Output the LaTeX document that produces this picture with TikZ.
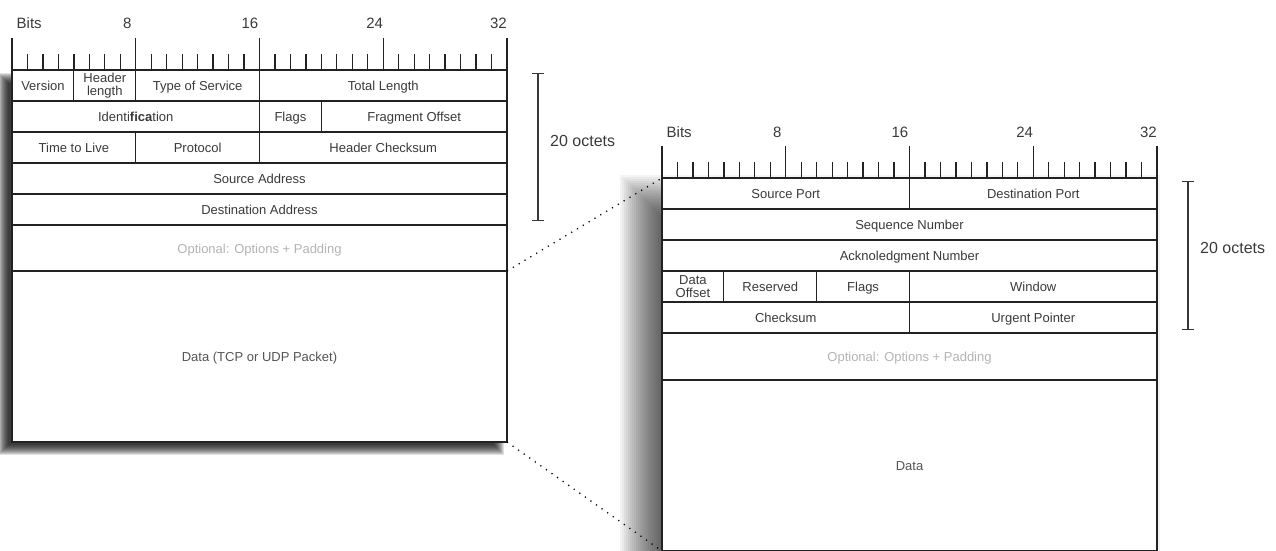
\documentclass[tikz,border=0pt]{standalone}
\usepackage{fontspec}
\setmainfont{Liberation Sans}
\usetikzlibrary{arrows.meta}
\definecolor{linec}{HTML}{222222}
\definecolor{txt}{HTML}{3A3A3A}
\definecolor{opttxt}{HTML}{B4B4B4}
\definecolor{datatxt}{HTML}{555555}
\newcommand\bw{15.46875}
% [opts]{name}{box left x}{bit0}{bit1}{ytop}{ybot}{text}
\newcommand\fieldat[8][]{%
  \node[field,#1,minimum width={(#5-#4)*\bw},minimum height={#7-#6}]
    (#2) at ({#3+(#4+#5)/2*\bw},{(#6+#7)/2}) {#8};}
% {prefix}{box left x}{row top y}{label baseline y}
\newcommand\bitruler[4]{%
  \foreach \i in {0,...,32}{\draw[tickline] ({#2+\i*\bw},#3) -- ({#2+\i*\bw},{#3-16});}
  \foreach \i in {0,8,16,24,32}{\draw[tickline] ({#2+\i*\bw},#3) -- ({#2+\i*\bw},{#3-32});}
  \node[rulerlabel,anchor=base west] (#1bits) at ({#2+4.5},#4) {Bits};
  \node[rulerlabel,anchor=base east] (#1eight) at ({#2+8*\bw-4},#4) {8};
  \node[rulerlabel,anchor=base east] (#1sixteen) at ({#2+16*\bw-1},#4) {16};
  \node[rulerlabel,anchor=base east] (#1twentyfour) at ({#2+24*\bw},#4) {24};
  \node[rulerlabel,anchor=base east] (#1thirtytwo) at ({#2+32*\bw},#4) {32};}
\tikzset{
  field/.style={draw=linec,fill=white,line width=1.1pt,inner sep=0pt,outer sep=0pt,
    text=txt,font=\fontsize{13}{15}\selectfont,align=center,text height=11pt,text depth=1pt},
  twoline/.style={font=\fontsize{13}{13}\selectfont,text height=,text depth=},
  optfield/.style={text=opttxt},
  datafield/.style={text=datatxt},
  tickline/.style={draw=linec,line width=1.3pt},
  rulerlabel/.style={text=txt,font=\fontsize{15}{17}\selectfont,inner sep=0pt},
  octlabel/.style={text=txt,font=\fontsize{16}{18}\selectfont,inner sep=0pt,anchor=west},
  octbar/.style={draw=linec!90,line width=1.4pt,{Bar[width=12pt,line width=1.4pt]}-{Bar[width=12pt,line width=1.4pt]}},
  dotline/.style={draw=black,line width=1.3pt,dash pattern=on 1.2pt off 5.6pt}
}
\begin{document}
\begin{tikzpicture}[x=1pt,y=-1pt]
\useasboundingbox (0,0) rectangle (1276,550);
% soft shadows
\foreach \e in {-5,...,5}{\fill[black,fill opacity=0.12] ({3-\e},{78-\e}) rectangle ({499+\e},{450+\e});}
\foreach \e in {-30,-28,...,30}{\fill[black,fill opacity=0.044] ({650-\e},{205-\e}) rectangle ({1130+\e},{600+\e});}
% IP header
\fieldat{ipver}{12}{0}{4}{70}{101}{Version}
\fieldat[twoline]{iphl}{12}{4}{8}{70}{101}{Header\\length}
\fieldat{iptos}{12}{8}{16}{70}{101}{Type of Service}
\fieldat{iplen}{12}{16}{32}{70}{101}{Total Length}
\fieldat{ipid}{12}{0}{16}{101}{132}{Identi\textbf{fica}tion}
\fieldat{ipflags}{12}{16}{20}{101}{132}{Flags}
\fieldat{ipfrag}{12}{20}{32}{101}{132}{Fragment Offset}
\fieldat{ipttl}{12}{0}{8}{132}{163}{Time to Live}
\fieldat{ipproto}{12}{8}{16}{132}{163}{Protocol}
\fieldat{ipcsum}{12}{16}{32}{132}{163}{Header Checksum}
\fieldat{ipsrc}{12}{0}{32}{163}{194}{Source Address}
\fieldat{ipdst}{12}{0}{32}{194}{225}{Destination Address}
\fieldat[optfield]{ipopt}{12}{0}{32}{225}{271}{Optional: Options + Padding}
\fieldat[datafield]{ipdata}{12}{0}{32}{271}{442}{Data (TCP or UDP Packet)}
\bitruler{ipr}{12}{70}{28}
% TCP header
\fieldat{tsrc}{662}{0}{16}{178}{209}{Source Port}
\fieldat{tdst}{662}{16}{32}{178}{209}{Destination Port}
\fieldat{tseq}{662}{0}{32}{209}{240}{Sequence Number}
\fieldat{tack}{662}{0}{32}{240}{271}{Acknoledgment Number}
\fieldat[twoline]{toff}{662}{0}{4}{271}{302}{Data\\Offset}
\fieldat{tres}{662}{4}{10}{271}{302}{Reserved}
\fieldat{tflags}{662}{10}{16}{271}{302}{Flags}
\fieldat{twin}{662}{16}{32}{271}{302}{Window}
\fieldat{tcsum}{662}{0}{16}{302}{333}{Checksum}
\fieldat{turg}{662}{16}{32}{302}{333}{Urgent Pointer}
\fieldat[optfield]{topt}{662}{0}{32}{333}{380}{Optional: Options + Padding}
\fieldat[datafield]{tdata}{662}{0}{32}{380}{551}{Data}
\bitruler{tr}{662}{178}{137}
% 20 octets markers
\coordinate (octLa) at (538,73);
\coordinate (octLb) at (538,221);
\draw[octbar] (octLa) -- (octLb);
\node[octlabel] (octLtext) at (550,141) {20 octets};
\coordinate (octRa) at (1188,181);
\coordinate (octRb) at (1188,330);
\draw[octbar] (octRa) -- (octRb);
\node[octlabel] (octRtext) at (1200,248) {20 octets};
% zoom lines
\draw[dotline] (ipdata.north east) -- (tsrc.north west);
\draw[dotline] (ipdata.south east) -- (tdata.south west);
\end{tikzpicture}
\end{document}
